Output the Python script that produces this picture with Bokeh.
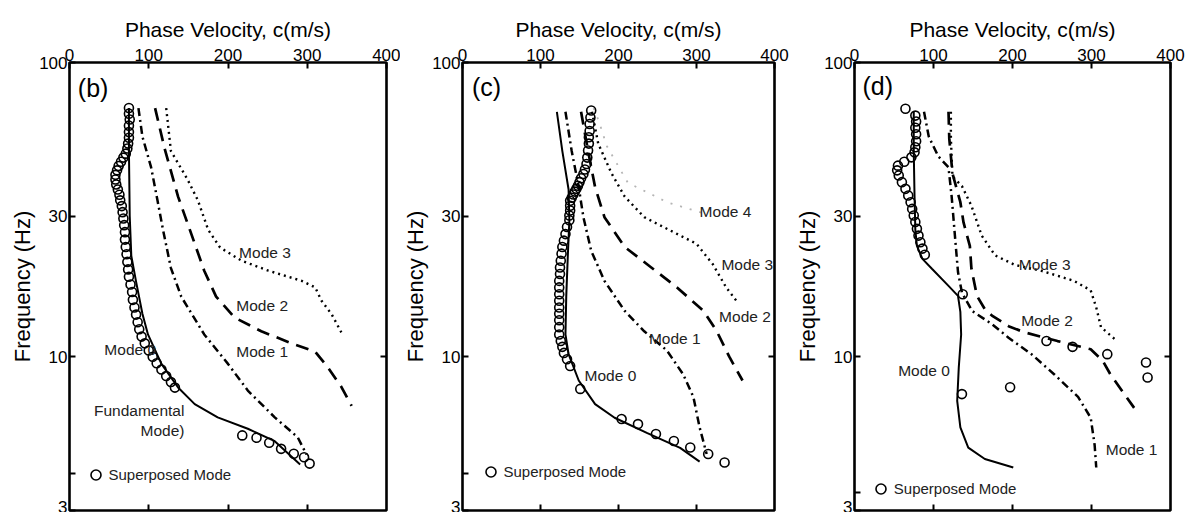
from bokeh.plotting import figure
from bokeh.models import (Range1d, FixedTicker, LinearAxis, LogAxis, Label,
                          Legend, LegendItem, PrintfTickFormatter)
from bokeh.layouts import row
from bokeh.embed import file_html
from bokeh.resources import INLINE

# ---------------- data (phase velocity m/s, frequency Hz) ----------------
# Panel (b)
b_mode0_v = [75, 75, 76, 78, 84, 92, 99, 116, 137, 158, 187, 225, 259, 291]
b_mode0_f = [70, 50, 30, 22, 18, 14, 11.9, 9.45, 7.86, 6.9, 6.22, 5.69, 5.16, 4.3]
b_mode1_v = [87, 92, 103, 111, 118, 128, 141, 170, 200, 225, 259, 288, 299]
b_mode1_f = [70, 56, 44, 34, 27, 20, 16, 11.9, 9.45, 7.67, 6.22, 5.32, 4.65]
b_mode2_v = [108, 120, 137, 154, 170, 185, 208, 242, 284, 310, 326, 343, 356]
b_mode2_f = [70, 51, 35, 26, 19.6, 16, 13.6, 12.2, 11, 10.4, 9.2, 7.9, 6.8]
b_mode3_v = [122, 128, 149, 162, 175, 190, 217, 251, 293, 310, 318, 331, 343]
b_mode3_f = [70, 50, 40, 34, 27, 23.5, 21.2, 19.6, 18.1, 17.2, 15.5, 13.9, 12.1]
b_sup_v = [75, 75, 76, 75, 75, 75, 74, 73, 71, 68, 65, 62, 60, 58, 58, 59, 61, 63,
           64, 66, 67, 68, 69, 70, 70, 71, 72, 73, 74, 75, 77, 79, 80, 82, 84, 86,
           88, 91, 95, 100, 105, 110, 116, 122, 128, 133,
           218, 236, 252, 267, 283, 296, 303]
b_sup_f = [70, 67, 64, 61, 58, 55.5, 53, 51, 49, 47.5, 46, 44.5, 43, 41.5, 40, 38.5,
           37, 35.5, 34, 32.5, 31, 29.5, 28, 26.5, 25, 23.6, 22.3, 21, 19.8, 18.7,
           17.6, 16.6, 15.6, 14.7, 13.9, 13.1, 12.4, 11.7, 11.1, 10.5, 10, 9.5,
           9.05, 8.6, 8.2, 7.85,
           5.4, 5.3, 5.1, 4.86, 4.68, 4.55, 4.33]

# Panel (c)
c_mode0_v = [121, 128, 136, 137, 135, 133, 132, 136, 149, 170, 195, 237, 279, 304]
c_mode0_f = [68, 50, 37, 29, 22, 16, 11.9, 10.2, 8.3, 6.9, 6.2, 5.5, 4.9, 4.4]
c_mode1_v = [132, 140, 149, 155, 165, 182, 208, 233, 262, 283, 296, 304, 313]
c_mode1_f = [68, 50, 37.7, 29.8, 22.9, 18.1, 14.3, 12.2, 10.5, 8.7, 7.3, 5.75, 4.67]
c_mode2_v = [152, 161, 170, 182, 208, 242, 275, 309, 326, 342, 359]
c_mode2_f = [68, 50, 37.7, 29.8, 23.6, 20.1, 17.2, 14.3, 12.2, 10, 8.3]
c_mode3_v = [166, 174, 191, 208, 233, 267, 300, 321, 338, 351]
c_mode3_f = [68, 53, 42, 35, 29.8, 26.8, 24.2, 20.6, 17.2, 15.5]
c_mode4_v = [168, 175, 185, 212, 248, 262, 313]
c_mode4_f = [70, 63, 52, 39, 35, 33.5, 30.5]
c_sup_v = [165, 164, 163, 163, 162, 162, 161, 160, 159, 157, 155, 152, 150, 148,
           146, 144, 142, 140, 138, 138, 138, 137, 137, 134, 132, 130, 128, 127,
           126, 125, 125, 124, 124, 124, 124, 124, 124, 124, 124, 124, 126, 128,
           130, 134, 138, 151,
           204, 225, 248, 271, 292, 315, 336]
c_sup_f = [68.7, 65, 61.8, 58.5, 55.7, 53, 50.2, 47.5, 45.2, 43.3, 41.8, 40.4, 39.2,
           38.1, 37.2, 36.4, 35.6, 34.7, 33.9, 32.6, 31.4, 30.2, 29.1, 27.6, 26.1,
           24.8, 23.6, 22.4, 21.2, 20.1, 19.1, 18.1, 17.2, 16.3, 15.5, 14.7, 14,
           13.3, 12.6, 11.9, 11.3, 10.8, 10.3, 9.8, 9.3, 7.77,
           6.14, 5.9, 5.46, 5.17, 4.91, 4.67, 4.37]

# Panel (d)
d_mode0_v = [75, 75, 76, 77, 79, 86, 98, 119, 131, 134, 135, 132, 130, 134, 144, 165, 201]
d_mode0_f = [68, 50, 35, 27, 23.8, 21.5, 19.9, 17.4, 16.1, 14.2, 11.9, 9.2, 7.08, 5.75, 4.91, 4.49, 4.2]
d_mode1_v = [88, 94, 106, 119, 123, 127, 131, 136, 149, 174, 195, 224, 253, 283, 299, 304, 306]
d_mode1_f = [68, 56, 48, 44, 35, 26, 19.4, 16.5, 14.3, 12.9, 11.6, 10.2, 8.7, 7.3, 6.2, 5.0, 4.2]
d_mode2_v = [119, 120, 124, 134, 138, 146, 148, 155, 165, 174, 195, 215, 257, 299, 314, 324, 341, 354]
d_mode2_f = [68, 55, 42, 33.5, 28.6, 23.8, 19.9, 16.1, 14.5, 13.8, 12.7, 12.1, 11.3, 10.6, 9.7, 8.7, 7.5, 6.7]
d_mode3_v = [122, 122, 124, 136, 148, 161, 178, 203, 236, 278, 299, 306, 312, 329]
d_mode3_f = [68, 55, 41, 38, 32.6, 25.8, 22.1, 20.5, 19.6, 18.1, 16.8, 14.7, 12.6, 11.5]
d_sup_v = [64.5, 77, 78, 77, 78, 78, 77, 76, 72, 63, 55, 54, 56, 60, 64.5, 68, 71,
           73, 75, 77, 79, 81, 83.4, 86, 89,
           137, 136, 197, 243, 276, 320, 369, 371]
d_sup_f = [69.6, 66, 63, 60, 57, 54, 51.5, 49.5, 47.6, 46, 44.6, 43, 41.3, 39.2,
           37.2, 35.3, 33.5, 31.8, 30.2, 28.7, 27.2, 25.8, 24.5, 23.3, 22.2,
           16.3, 7.46, 7.87, 11.3, 10.8, 10.2, 9.55, 8.5]

x_ticks = [0, 100, 200, 300, 400]
y_ticks = [3, 10, 30, 100]

FONT = "Liberation Sans"


def style_axis(ax, labels=True):
    ax.axis_line_color = None
    ax.major_tick_in = 6
    ax.major_tick_out = 0
    ax.major_tick_line_width = 2
    ax.major_tick_line_color = "black"
    ax.minor_tick_in = 6
    ax.minor_tick_out = 0
    ax.minor_tick_line_width = 2
    ax.minor_tick_line_color = "black"
    ax.major_label_text_font = FONT
    ax.major_label_text_font_size = "17px"
    ax.major_label_text_color = "black"
    ax.major_label_standoff = 2
    ax.axis_label_text_font = FONT
    ax.axis_label_text_font_size = "21px"
    ax.axis_label_text_font_style = "normal"
    ax.axis_label_text_color = "black"
    if not labels:
        ax.major_label_text_font_size = "1px"
        ax.major_label_text_alpha = 0
        ax.major_label_standoff = 0


def panel(tag, modes, sup_v, sup_f, minor, width, lb, rb, leg_loc, notes, mode4=None):
    p = figure(width=width, height=512, x_range=Range1d(0, 400), y_range=Range1d(3, 100),
               y_axis_type="log", x_axis_location="above", output_backend="svg",
               toolbar_location=None, min_border_left=lb, min_border_right=rb,
               min_border_top=62, min_border_bottom=2)
    p.grid.visible = False
    p.outline_line_color = "black"
    p.outline_line_width = 2.6
    p.background_fill_color = "white"
    p.border_fill_color = "white"

    top = p.xaxis[0]
    top.ticker = FixedTicker(ticks=x_ticks)
    style_axis(top)
    top.axis_label = "Phase Velocity, c(m/s)"
    top.axis_label_standoff = 5

    left = p.yaxis[0]
    left.ticker = FixedTicker(ticks=y_ticks, minor_ticks=[minor])
    left.formatter = PrintfTickFormatter(format="%d")
    style_axis(left)
    left.axis_label = "Frequency (Hz)"
    left.axis_label_text_font_size = "22px"
    left.axis_label_standoff = 1

    bottom = LinearAxis(ticker=FixedTicker(ticks=[100, 200, 300]))
    style_axis(bottom, labels=False)
    p.add_layout(bottom, "below")
    right = LogAxis(ticker=FixedTicker(ticks=[10]))
    style_axis(right, labels=False)
    p.add_layout(right, "right")

    (v0, f0), (v1, f1), (v2, f2), (v3, f3) = modes
    if mode4 is not None:
        p.line(mode4[0], mode4[1], line_color="#b5b5b5", line_width=1.8, line_dash="2 8")
    p.line(v3, f3, line_color="black", line_width=2.4, line_dash="2 4")
    p.line(v2, f2, line_color="black", line_width=2.7, line_dash="13 8")
    p.line(v1, f1, line_color="black", line_width=2.5, line_dash="8 4 2 4")
    p.line(v0, f0, line_color="black", line_width=2.0)
    circ = p.scatter(sup_v, sup_f, marker="circle", size=9, fill_color=None,
                     line_color="black", line_width=1.6)

    leg = Legend(items=[LegendItem(label="Superposed Mode", renderers=[circ])],
                 location=leg_loc, border_line_color=None, background_fill_alpha=0,
                 padding=0, margin=0, spacing=0, glyph_width=25, glyph_height=25,
                 label_height=25, label_standoff=1, label_text_font=FONT,
                 label_text_font_size="15px", label_text_color="#222222")
    p.add_layout(leg)

    p.add_layout(Label(x=notes[0][0], y=notes[0][1], text=tag, text_font=FONT,
                       text_font_size="25px", text_baseline="middle", text_color="black"))
    for (x, y, t, al) in notes[1:]:
        p.add_layout(Label(x=x, y=y, text=t, text_font=FONT, text_font_size="15.5px",
                           text_baseline="middle", text_align=al, text_color="#222222"))
    return p


pb = panel("(b)",
           [(b_mode0_v, b_mode0_f), (b_mode1_v, b_mode1_f), (b_mode2_v, b_mode2_f), (b_mode3_v, b_mode3_f)],
           b_sup_v, b_sup_f, 4, 400, 69, 14, (13.5, 23.5),
           [(10.5, 82), (214, 22.6, "Mode 3", "left"), (210.5, 14.9, "Mode 2", "left"),
            (210.5, 10.4, "Mode 1", "left"), (44, 10.6, "Mode 0", "left"),
            (145, 6.55, "Fundamental", "right"), (145, 5.6, "Mode)", "right")])

pc = panel("(c)",
           [(c_mode0_v, c_mode0_f), (c_mode1_v, c_mode1_f), (c_mode2_v, c_mode2_f), (c_mode3_v, c_mode3_f)],
           c_sup_v, c_sup_f, 4, 392, 57, 18, (15.5, 25.8),
           [(12.2, 82.4), (304, 31.2, "Mode 4", "left"), (332, 20.6, "Mode 3", "left"),
            (329, 13.7, "Mode 2", "left"), (239, 11.5, "Mode 1", "left"),
            (156.5, 8.6, "Mode 0", "left")],
           mode4=(c_mode4_v, c_mode4_f))

pd_ = panel("(d)",
            [(d_mode0_v, d_mode0_f), (d_mode1_v, d_mode1_f), (d_mode2_v, d_mode2_f), (d_mode3_v, d_mode3_f)],
            d_sup_v, d_sup_f, 3.45, 397, 60, 19, (13.8, 9.2),
            [(10, 83.5), (208, 20.6, "Mode 3", "left"), (211, 13.3, "Mode 2", "left"),
             (318, 4.82, "Mode 1", "left"), (55.3, 9.0, "Mode 0", "left")])

layout = row(pb, pc, pd_, spacing=0)
open("out.html", "w").write(file_html(layout, INLINE))
